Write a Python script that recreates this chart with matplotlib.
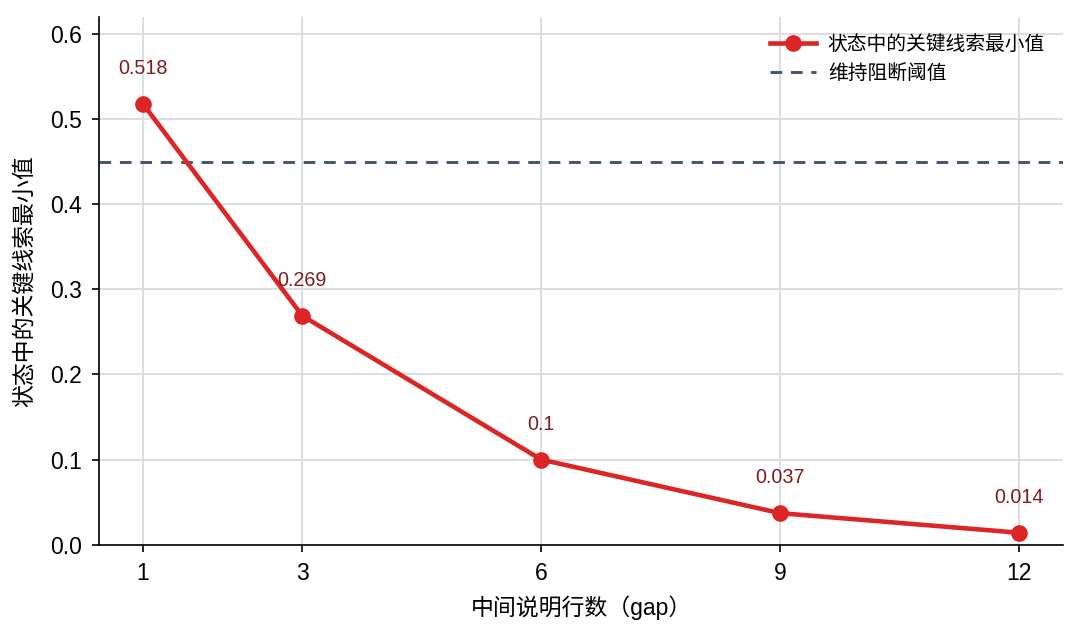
import matplotlib
matplotlib.use("Agg")
import matplotlib.pyplot as plt

plt.rcParams['font.family'] = ['Liberation Sans', 'Noto Sans CJK SC', 'DejaVu Sans']
plt.rcParams['axes.unicode_minus'] = False

gaps = [1, 3, 6, 9, 12]
min_values = [0.518, 0.269, 0.1, 0.037, 0.014]
value_labels = ['0.518', '0.269', '0.1', '0.037', '0.014']
threshold = 0.45
series_label = '状态中的关键线索最小值'
threshold_label = '维持阻断阈值'
xlabel = '中间说明行数（gap）'
ylabel = '状态中的关键线索最小值'

fig, ax = plt.subplots(figsize=(1079/150, 637/150), dpi=150)
ax.plot(gaps, min_values, color='#dc2626', lw=2.2, marker='o', ms=7, label=series_label, zorder=3)
ax.axhline(threshold, color='#475569', ls='--', lw=1.4, dashes=(4.0, 3.0), label=threshold_label, zorder=2)
for x, y, t in zip(gaps, min_values, value_labels):
    ax.annotate(t, (x, y), xytext=(0, 17), textcoords='offset points', ha='center', va='center',
                fontsize=9.5, color='#7f1d1d')
ax.set_xlim(0.45, 12.55)
ax.set_ylim(0, 0.62)
ax.set_xticks(gaps)
ax.set_yticks([0, 0.1, 0.2, 0.3, 0.4, 0.5, 0.6])
ax.grid(True, color='#d9dde3', lw=0.9)
ax.set_axisbelow(True)
ax.spines['top'].set_visible(False)
ax.spines['right'].set_visible(False)
ax.tick_params(labelsize=11, pad=5)
ax.set_xlabel(xlabel, fontsize=11, labelpad=5)
ax.set_ylabel(ylabel, fontsize=11, labelpad=6)
ax.legend(loc='upper right', frameon=False, fontsize=9.5, handlelength=2.3, handletextpad=0.6)
fig.subplots_adjust(left=0.092, right=0.985, top=0.973, bottom=0.145)
fig.savefig('out.png', dpi=150)
